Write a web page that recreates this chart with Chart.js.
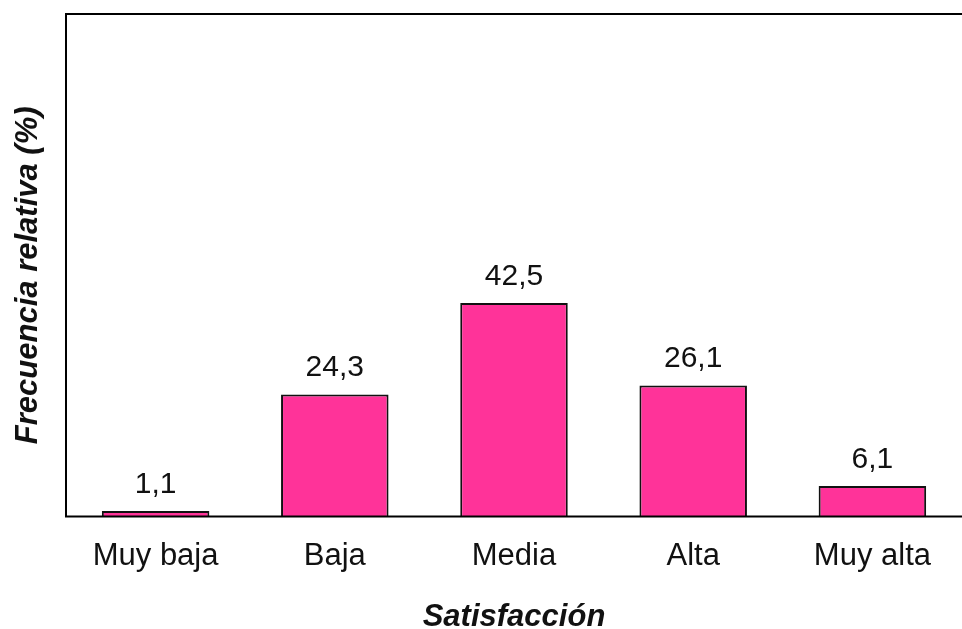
<!DOCTYPE html>
<html><head><meta charset="utf-8">
<script src="https://cdn.jsdelivr.net/npm/chart.js@4/dist/chart.umd.min.js"></script>
<style>html,body{margin:0;padding:0;background:#fff}#wrap{width:962px;height:629px}</style>
</head><body><div id="wrap"><canvas id="c" width="962" height="629"></canvas></div>
<script>
const categories = ["Muy baja", "Baja", "Media", "Alta", "Muy alta"];
const values = [1.1, 24.3, 42.5, 26.1, 6.1];
const valueLabels = ["1,1", "24,3", "42,5", "26,1", "6,1"];
const xTitle = "Satisfacción";
const yTitle = "Frecuencia relativa (%)";

const FONT = '"Liberation Sans", Arial, sans-serif';

const frame = {
  id: 'frame',
  afterDraw(chart) {
    const {ctx, chartArea: a} = chart;
    ctx.save();
    ctx.strokeStyle = '#000';
    ctx.lineWidth = 2;
    ctx.beginPath();
    ctx.moveTo(a.right + 2, a.top); ctx.lineTo(a.left, a.top);
    ctx.lineTo(a.left, a.bottom); ctx.lineTo(a.right + 2, a.bottom);
    ctx.stroke();
    ctx.fillStyle = '#111';
    ctx.font = '30px ' + FONT;
    ctx.textAlign = 'center';
    ctx.textBaseline = 'alphabetic';
    chart.getDatasetMeta(0).data.forEach((bar, i) => {
      ctx.fillText(valueLabels[i], bar.x, bar.y - 18);
    });
    // y axis title
    ctx.translate(a.left - 38, (a.top + a.bottom) / 2 + 10);
    ctx.rotate(-Math.PI / 2);
    ctx.font = 'italic bold 31px ' + FONT;
    ctx.textBaseline = 'middle';
    ctx.fillText(yTitle, 0, 0);
    ctx.restore();
  }
};

new Chart(document.getElementById('c'), {
  type: 'bar',
  data: {
    labels: categories,
    datasets: [{
      data: values,
      backgroundColor: '#FF3399',
      borderColor: '#111',
      borderWidth: 2,
      categoryPercentage: 1,
      barPercentage: 0.6
    }]
  },
  options: {
    responsive: false,
    animation: false,
    events: [],
    layout: {padding: {left: 0, top: 14, right: 0, bottom: 0}},
    plugins: {legend: {display: false}, tooltip: {enabled: false}},
    scales: {
      x: {
        grid: {display: false, drawTicks: false},
        border: {display: false},
        ticks: {color: '#111', font: {family: FONT, size: 31, lineHeight: 1.2}, padding: 21.4},
        title: {display: true, text: xTitle, color: '#111',
          font: {family: FONT, size: 31, weight: 'bold', style: 'italic', lineHeight: 0.75},
          padding: {top: 9.15, bottom: 0}}
      },
      y: {
        min: 0, max: 100,
        grid: {display: false, drawTicks: false},
        border: {display: false},
        ticks: {display: false},
        title: {display: false},
        afterFit(scale) { scale.width = 66; }
      }
    }
  },
  plugins: [frame]
});
</script></body></html>
